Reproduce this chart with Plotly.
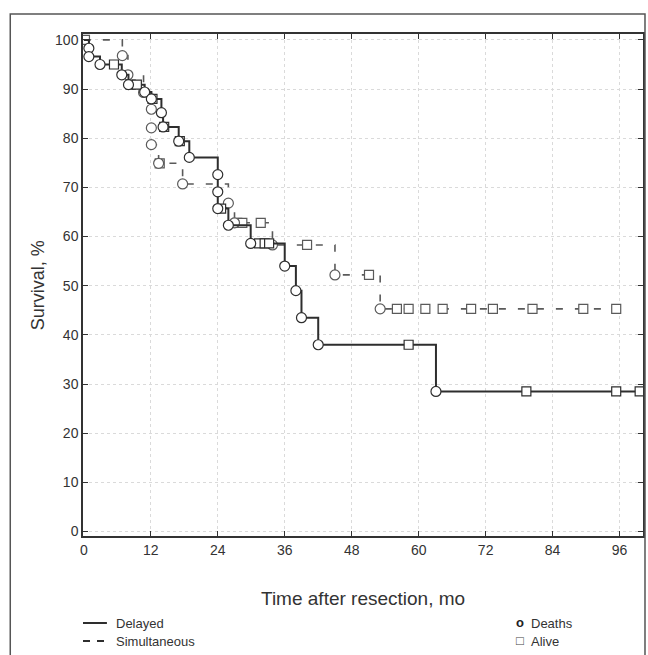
import plotly.graph_objects as go

# ---- Data ----
delayed_time = [0.9, 0.9, 2.9, 5.4, 6.8, 8.0, 8.4, 9.5, 10.9, 12.1, 12.3, 13.9, 14.2, 14.4,
                17.0, 17.2, 18.9, 24.0, 24.0, 24.0, 24.6, 25.9, 29.9, 31.4, 32.4, 33.2,
                36.0, 38.0, 39.0, 42.0, 58.2, 63.1, 79.3, 95.4, 99.6]
delayed_surv = [98.3, 96.6, 95.0, 95.0, 92.9, 90.9, 90.9, 90.9, 89.4, 88.0, 88.0, 85.2, 82.3, 82.3,
                79.4, 79.4, 76.1, 72.6, 69.1, 65.7, 65.7, 62.3, 58.6, 58.6, 58.6, 58.6,
                54.0, 49.0, 43.5, 38.0, 38.0, 28.5, 28.5, 28.5, 28.5]
delayed_death = [1, 1, 1, 0, 1, 1, 0, 0, 1, 1, 0, 1, 1, 0,
                 1, 0, 1, 1, 1, 1, 0, 1, 1, 0, 0, 0,
                 1, 1, 1, 1, 0, 1, 0, 0, 0]

simult_time = [0.2, 6.9, 7.9, 10.7, 12.1, 12.1, 12.1, 13.4, 13.6, 17.7, 25.9, 27.0, 27.5, 28.4,
               31.7, 33.8, 40.0, 45.0, 51.1, 53.1, 56.1, 58.2, 61.2, 64.3, 69.4, 73.3,
               80.4, 89.5, 95.4]
simult_surv = [100.0, 96.8, 92.9, 89.3, 85.9, 82.1, 78.7, 74.9, 74.9, 70.7, 66.8, 62.8, 62.8, 62.8,
               62.8, 58.3, 58.3, 52.2, 52.2, 45.3, 45.3, 45.3, 45.3, 45.3, 45.3, 45.3,
               45.3, 45.3, 45.3]
simult_death = [0, 1, 1, 1, 1, 1, 1, 1, 0, 1, 1, 1, 0, 0,
                0, 1, 0, 1, 0, 1, 0, 0, 0, 0, 0, 0,
                0, 0, 0]

x_ticks = [0, 12, 24, 36, 48, 60, 72, 84, 96]
y_ticks = [0, 10, 20, 30, 40, 50, 60, 70, 80, 90, 100]

DARK = "#2e2e2e"
GRAY = "#5a5a5a"
FONT = "Liberation Sans Narrow, Liberation Sans, Arial, sans-serif"

fig = go.Figure()


def add_series(times, surv, death, color, dash, width, name):
    fig.add_trace(go.Scatter(
        x=[0] + times, y=[100] + surv, mode="lines", line_shape="hv",
        line=dict(color=color, width=width, dash=dash),
        hoverinfo="skip", showlegend=False, name=name))
    dx = [t for t, d in zip(times, death) if d == 1]
    dy = [s for s, d in zip(surv, death) if d == 1]
    cx = [t for t, d in zip(times, death) if d == 0]
    cy = [s for s, d in zip(surv, death) if d == 0]
    fig.add_trace(go.Scatter(
        x=cx, y=cy, mode="markers",
        marker=dict(symbol="square", size=9, color="white",
                    line=dict(color=color, width=1.2)),
        showlegend=False, name=name + " alive"))
    fig.add_trace(go.Scatter(
        x=dx, y=dy, mode="markers",
        marker=dict(symbol="circle", size=10, color="white",
                    line=dict(color=color, width=1.2)),
        showlegend=False, name=name + " deaths"))


add_series(simult_time, simult_surv, simult_death, GRAY, "7px,12px", 1.6, "Simultaneous")
add_series(delayed_time, delayed_surv, delayed_death, DARK, "solid", 2.0, "Delayed")

L, R, T, B = 83, 645, 34, 536
W, H = 648, 655
pw, ph = R - L, B - T


def px(x):
    return (x - L) / pw


def py(y):
    return (B - y) / ph


annotations = [
    dict(text="Survival, %", x=px(38), y=py(285), textangle=-90,
         font=dict(size=18, color="#333")),
    dict(text="Time after resection, mo", x=px(364), y=py(598),
         font=dict(size=19, color="#333")),
    dict(text="Delayed", x=px(114), y=py(623), xanchor="left",
         font=dict(size=13, color="#333")),
    dict(text="Simultaneous", x=px(114), y=py(641), xanchor="left",
         font=dict(size=13, color="#333")),
    dict(text="<b>o</b>", x=px(522), y=py(622), font=dict(size=13, color="#222")),
    dict(text="Deaths", x=px(531), y=py(623), xanchor="left",
         font=dict(size=13, color="#333")),
    dict(text="□", x=px(522), y=py(640), font=dict(size=13, color="#444")),
    dict(text="Alive", x=px(531), y=py(641), xanchor="left",
         font=dict(size=13, color="#333")),
]
for a in annotations:
    a.update(xref="paper", yref="paper", showarrow=False, yanchor="middle")
    a.setdefault("xanchor", "center")

shapes = [
    dict(type="rect", xref="paper", yref="paper", x0=px(10), x1=px(647),
         y0=py(668), y1=py(14), line=dict(color="#555", width=1.5)),
    dict(type="line", xref="paper", yref="paper", x0=px(83), x1=px(107),
         y0=py(623), y1=py(623), line=dict(color=DARK, width=2)),
    dict(type="line", xref="paper", yref="paper", x0=px(83), x1=px(107),
         y0=py(641), y1=py(641), line=dict(color=DARK, width=2, dash="7px,7px")),
]

fig.update_layout(
    width=W, height=H,
    margin=dict(l=L, r=W - R, t=T, b=H - B),
    paper_bgcolor="white", plot_bgcolor="white",
    font=dict(family=FONT, size=14, color="#333"),
    annotations=annotations, shapes=shapes,
    showlegend=False,
    xaxis=dict(range=[-0.15, 100.2], tickvals=x_ticks, ticks="inside", ticklen=5,
               tickcolor="#333", showline=True, linecolor="#333", linewidth=1.5,
               mirror="ticks", showgrid=True, gridcolor="#dadada", griddash="dot",
               gridwidth=1, zeroline=False, tickfont=dict(size=14, color="#333")),
    yaxis=dict(range=[-0.9, 101.2], tickvals=y_ticks, ticks="inside", ticklen=5,
               tickcolor="#333", showline=True, linecolor="#333", linewidth=1.5,
               mirror="ticks", showgrid=True, gridcolor="#dadada", griddash="dot",
               gridwidth=1, zeroline=False, tickfont=dict(size=14, color="#333")),
)

fig.write_html(
    "out.html",
    config={"displayModeBar": False},
    post_script="document.body.style.margin='0';document.body.style.overflow='hidden';",
)
